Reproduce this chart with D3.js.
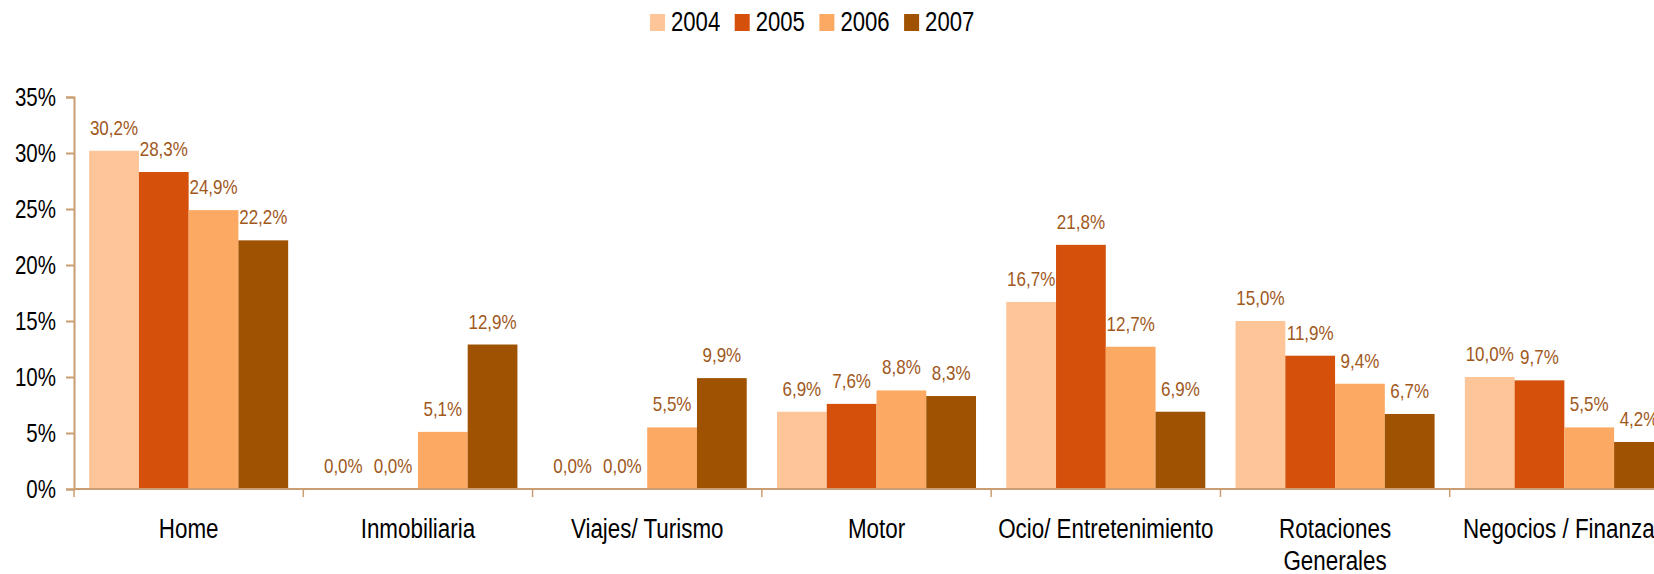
<!DOCTYPE html>
<html>
<head>
<meta charset="utf-8">
<script src="https://cdn.jsdelivr.net/npm/d3@7"></script>
<style>
  body { margin: 0; background: #fff; }
  text { font-family: "Liberation Sans", Arial, sans-serif; }
</style>
</head>
<body>
<div id="viz"></div>
<script>
// data
var categories = ["Home", "Inmobiliaria", "Viajes/ Turismo", "Motor",
                  "Ocio/ Entretenimiento", "Rotaciones\nGenerales", "Negocios / Finanzas"];
var years = ["2004", "2005", "2006", "2007"];
var v2004 = [30.2, 0.0, 0.0, 6.9, 16.7, 15.0, 10.0];
var v2005 = [28.3, 0.0, 0.0, 7.6, 21.8, 11.9, 9.7];
var v2006 = [24.9, 5.1, 5.5, 8.8, 12.7, 9.4, 5.5];
var v2007 = [22.2, 12.9, 9.9, 8.3, 6.9, 6.7, 4.2];
var yTicks = [0, 5, 10, 15, 20, 25, 30, 35];
var colors = ["#FDC598", "#D4500B", "#FCA963", "#9F5201"];

var series = [v2004, v2005, v2006, v2007];

var W = 1654, H = 574;
var x0Left = 74, x0Right = 1679, yTop = 97, yBottom = 489;
var axisColor = "#C99E72", labelColor = "#A0581C";
// the original uses a narrow font, so squeeze the text sideways
var narrow = 0.82;

var svg = d3.select("#viz")
  .append("svg")
  .attr("width", W)
  .attr("height", H);

// scales
var x0 = d3.scaleBand()
  .domain(categories)
  .range([x0Left, x0Right])
  .paddingInner(0.132)
  .paddingOuter(0.066);

var x1 = d3.scaleBand()
  .domain(years)
  .range([0, x0.bandwidth()])
  .padding(0);

var y = d3.scaleLinear()
  .domain([0, 35])
  .range([yBottom, yTop]);

// y axis
var yAxis = svg.append("g")
  .attr("transform", "translate(" + x0Left + ",0)")
  .call(d3.axisLeft(y)
    .tickValues(yTicks)
    .tickSize(8)
    .tickPadding(10)
    .tickFormat(d => d + "%"));
yAxis.select(".domain").attr("stroke", axisColor).attr("stroke-width", 2);
yAxis.selectAll(".tick line").attr("stroke", axisColor).attr("stroke-width", 2);
yAxis.selectAll(".tick text")
  .attr("fill", "#000")
  .style("font-size", "25px")
  .attr("transform", "translate(-18,0) scale(" + narrow + ",1)")
  .attr("x", 0);

// bars
var groups = svg.append("g")
  .selectAll("g")
  .data(categories)
  .join("g")
  .attr("transform", d => "translate(" + x0(d) + ",0)");

var cells = (c, i) => years.map((yr, k) => ({ year: yr, k: k, value: series[k][i] }));

groups.selectAll("rect")
  .data(cells)
  .join("rect")
  .attr("x", d => x1(d.year))
  .attr("y", d => y(d.value))
  .attr("width", x1.bandwidth())
  .attr("height", d => y(0) - y(d.value))
  .attr("fill", d => colors[d.k]);

// value labels
groups.selectAll("text")
  .data(cells)
  .join("text")
  .attr("transform", d => "translate(" + (x1(d.year) + x1.bandwidth() / 2) + "," +
                                (y(d.value) - 16) + ") scale(0.85,1)")
  .attr("text-anchor", "middle")
  .attr("fill", labelColor)
  .style("font-size", "20px")
  .text(d => d.value.toFixed(1).replace(".", ",") + "%");

// x axis line and boundary ticks
svg.append("line")
  .attr("x1", x0Left).attr("x2", W)
  .attr("y1", yBottom).attr("y2", yBottom)
  .attr("stroke", axisColor)
  .attr("stroke-width", 2);

var step = x0.step();
svg.append("g")
  .selectAll("line")
  .data(categories)
  .join("line")
  .attr("x1", d => x0(d) - step * x0.paddingInner() / 2)
  .attr("x2", d => x0(d) - step * x0.paddingInner() / 2)
  .attr("y1", yBottom)
  .attr("y2", yBottom + 8)
  .attr("stroke", axisColor)
  .attr("stroke-width", 1.5);

// category labels
svg.append("g")
  .selectAll("text")
  .data(categories)
  .join("text")
  .attr("transform", d => "translate(" + (x0(d) + x0.bandwidth() / 2) + ",538) scale(0.8,1)")
  .attr("text-anchor", "middle")
  .attr("fill", "#000")
  .style("font-size", "28px")
  .each(function(d) {
    var t = d3.select(this);
    d.split("\n").forEach((ln, i) => {
      t.append("tspan")
        .attr("x", 0)
        .attr("dy", i === 0 ? 0 : 32)
        .text(ln);
    });
  });

// legend
var legend = svg.append("g")
  .selectAll("g")
  .data(years)
  .join("g")
  .attr("transform", (d, i) => "translate(" + (650 + i * 84.7) + ",0)");

legend.append("rect")
  .attr("x", 0).attr("y", 14)
  .attr("width", 15).attr("height", 17)
  .attr("fill", (d, i) => colors[i]);

legend.append("text")
  .attr("transform", "translate(21,31) scale(0.79,1)")
  .attr("fill", "#000")
  .style("font-size", "28px")
  .text(d => d);
</script>
</body>
</html>
